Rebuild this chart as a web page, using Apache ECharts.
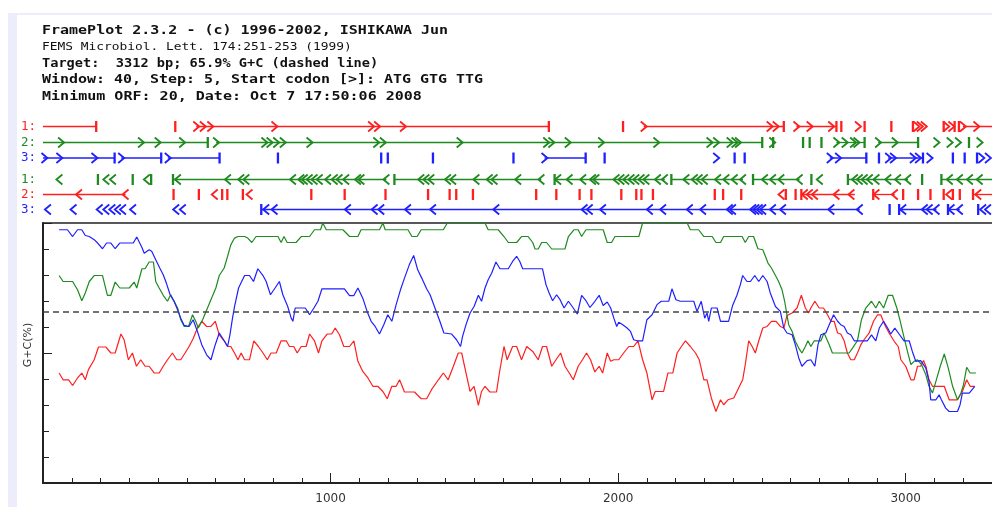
<!DOCTYPE html>
<html>
<head>
<meta charset="utf-8">
<script src="https://cdn.jsdelivr.net/npm/echarts@6/dist/echarts.min.js"></script>
<style>
  html, body { margin: 0; padding: 0; background: #ffffff; }
  #chart { width: 992px; height: 507px; }
</style>
</head>
<body>
<div id="chart"></div>
<script>
// ---- sequence summary ----
const seqLength = 3312;
const targetGC = 65.9;
const xLabelValues = [1000, 2000, 3000];

const headerLines = [
  'FramePlot 2.3.2 - (c) 1996-2002, ISHIKAWA Jun',
  'FEMS Microbiol. Lett. 174:251-253 (1999)',
  'Target:  3312 bp; 65.9% G+C (dashed line)',
  'Window: 40, Step: 5, Start codon [>]: ATG GTG TTG',
  'Minimum ORF: 20, Date: Oct 7 17:50:06 2008'
];

// ---- G+C (%) along the sequence, one trace per codon position ----
const frame1GC = [
  [56,42.3],[70,39.7],[89,39.7],[103,37.5],[120,40.4],[135,42.3],[147,39.7],[158,43.6],[178,47.4],[193,52.3],
  [219,52.3],[236,50],[251,50],[271,57.3],[282,55.1],[297,47.4],[311,50],[325,44.9],[340,47.4],[355,44.9],
  [369,44.9],[387,42.3],[404,42.3],[418,44.9],[433,47.4],[450,50],[465,47.4],[479,47.4],[494,50],[508,52.5],
  [522,55.5],[537,59.6],[552,62.2],[569,60.2],[584,60.2],[599,62.2],[613,57],[630,54.7],[642,52.5],[653,52.5],
  [666,50],[678,47.4],[689,50],[701,47.4],[718,47.4],[733,54.7],[749,52.5],[765,50],[780,47.4],[793,50],
  [811,50],[828,54.7],[846,54.7],[857,52.5],[872,52.5],[884,50],[898,52.5],[915,52.5],[927,57.3],[944,54.7],
  [958,50],[970,54.7],[988,57.3],[1004,57.3],[1016,59.6],[1031,57],[1046,52.5],[1066,52.5],[1081,54.7],[1095,46.8],
  [1112,42.9],[1130,40.4],[1147,37.2],[1164,37.2],[1182,35.2],[1197,32.4],[1213,37.2],[1228,37.2],[1240,39.7],[1257,35],
  [1292,35],[1315,32.4],[1334,32.4],[1351,35.9],[1375,39.7],[1392,42.3],[1409,39.7],[1427,44.9],[1444,50],[1456,50],
  [1471,42.3],[1485,35.2],[1499,37.2],[1514,29.9],[1525,35.2],[1537,37.2],[1554,35],[1577,35],[1587,42.3],[1603,52.5],
  [1614,47.4],[1633,52.5],[1647,52.5],[1664,47.4],[1682,52.5],[1703,50.6],[1722,47.4],[1737,52.5],[1751,52.5],[1769,44.9],
  [1784,47.4],[1800,50],[1815,44.9],[1830,42.3],[1844,39.7],[1861,44.9],[1876,47.4],[1890,50],[1904,47.4],[1919,42.7],
  [1934,44.9],[1946,42.3],[1962,50],[1974,46.8],[1985,47.4],[2002,47.4],[2019,50],[2037,52.5],[2054,52.5],[2069,54.7],
  [2085,47.4],[2100,42.3],[2118,32],[2129,35.2],[2158,35.2],[2173,42.3],[2190,42.3],[2205,50],[2220,52.5],[2234,54.7],
  [2251,52.5],[2269,50],[2282,47.4],[2298,39.7],[2309,39.7],[2324,32.7],[2340,27.5],[2356,32],[2367,30.1],[2382,32],
  [2402,32.7],[2419,36.5],[2433,39.7],[2442,45.5],[2454,54.7],[2466,52.5],[2477,50],[2489,54.7],[2503,59.6],[2518,60.2],
  [2533,62.2],[2549,62.2],[2564,60.2],[2576,59.6],[2587,64.4],[2605,65.4],[2622,67.3],[2637,72.2],[2651,67.3],[2662,65.4],
  [2670,67.3],[2684,69.9],[2699,67.3],[2714,67.3],[2728,64.7],[2740,62.2],[2751,62.2],[2763,57.7],[2774,57.3],[2786,54.7],
  [2797,50],[2809,47.4],[2821,47.4],[2832,50],[2844,53.2],[2855,55.1],[2873,57.7],[2888,62.2],[2902,64.7],[2913,64.7],
  [2927,60.9],[2942,57.7],[2960,54.5],[2974,52.5],[2983,47.4],[3000,44.9],[3018,39.7],[3029,39.7],[3041,44.9],[3052,44.9],
  [3062,47.1],[3070,44.9],[3081,39.7],[3093,37.2],[3134,37.2],[3151,32],[3180,32],[3197,35.2],[3212,39.7],[3224,37.2],
  [3240,37.2]
];

const frame2GC = [
  [56,79.8],[70,77.5],[103,77.5],[120,74.3],[135,70.1],[147,73.1],[161,77.5],[178,79.8],[207,79.8],[224,72.2],
  [236,72.2],[251,77.3],[267,75],[300,75],[317,77.3],[326,75],[344,82.4],[355,82.4],[369,85],[384,85],
  [392,77.5],[404,75],[418,72.2],[433,69.9],[444,72.4],[456,69.9],[468,67.3],[479,62.8],[491,60.2],[506,60.2],
  [520,64.7],[531,62.2],[540,59.6],[555,62.8],[572,67.3],[589,71.8],[601,75],[613,79.8],[630,82.7],[642,87.2],
  [653,91.6],[666,94.2],[678,94.8],[701,94.8],[712,94.2],[726,92.5],[741,94.8],[817,94.8],[828,92.5],[838,94.8],
  [849,92.5],[880,92.5],[898,94.8],[927,94.8],[944,97.4],[965,97.4],[973,100],[985,97.4],[1043,97.4],[1066,94.8],
  [1095,94.8],[1106,97.4],[1170,97.4],[1182,100],[1190,97.4],[1269,97.4],[1283,94.8],[1301,94.8],[1315,97.4],[1392,97.4],
  [1406,100],[1537,100],[1548,97.4],[1583,97.4],[1603,94.8],[1618,92.5],[1647,92.5],[1664,94.8],[1687,94.8],[1703,92.5],
  [1711,90],[1722,90],[1734,92.5],[1751,92.5],[1769,90],[1815,90],[1827,94.8],[1846,97.4],[1861,97.4],[1873,94.8],
  [1888,97.4],[1948,97.4],[1962,92.5],[1977,92.5],[1989,94.8],[2072,94.8],[2085,100],[2240,100],[2251,97.4],[2280,97.4],
  [2298,94.8],[2327,94.8],[2340,92.5],[2356,92.5],[2367,94.8],[2431,94.8],[2442,92.5],[2454,94.8],[2471,94.8],[2486,90.1],
  [2503,89.7],[2512,87.2],[2521,84.6],[2533,82.7],[2547,79.8],[2558,77.5],[2570,74.3],[2579,69.9],[2587,64.7],[2593,60.9],
  [2605,58.3],[2616,54.5],[2628,51.9],[2639,50],[2651,52.5],[2660,54.7],[2670,52.5],[2682,54.7],[2705,54.7],[2716,57.7],
  [2734,53.2],[2745,50],[2803,50],[2815,51.9],[2832,54.7],[2846,62.8],[2861,67.3],[2881,69.9],[2896,67.3],[2908,69.9],
  [2923,67.3],[2939,72.2],[2954,72.2],[2969,67.3],[2981,62.2],[2992,57],[3006,50.6],[3018,45.5],[3029,46.8],[3041,47.4],
  [3055,45.5],[3070,41.6],[3081,37.2],[3093,34.6],[3105,39.1],[3120,44.9],[3134,49.6],[3148,44.2],[3163,37.2],[3180,32],
  [3192,34.6],[3201,37.8],[3212,44.5],[3224,42.3],[3244,42.3]
];

const frame3GC = [
  [56,97.4],[85,97.4],[103,94.8],[120,97.4],[135,97.4],[147,95.2],[161,94.8],[178,93.6],[190,92.3],[207,90.1],
  [221,92.3],[236,92.3],[251,90.1],[267,92.3],[314,92.3],[326,94.6],[344,90.6],[352,88.4],[369,89.7],[378,89.1],
  [392,85.9],[406,82.7],[418,80.1],[429,76.9],[442,72.4],[456,69.8],[468,66.6],[479,63.4],[491,60.6],[508,60.2],
  [522,62.8],[537,58.3],[552,53.2],[569,49.3],[584,47.4],[599,53.2],[613,57.7],[630,54.7],[642,52.5],[650,57],
  [659,63.4],[666,67.8],[680,75],[701,79.8],[718,79.8],[732,77.5],[747,82.4],[765,79.8],[776,77.5],[791,72.4],
  [807,75],[822,77.5],[834,72.4],[851,67.9],[863,63.4],[869,62.2],[877,67.3],[912,67.3],[927,64.7],[942,67.3],
  [956,69.9],[970,74.7],[1048,74.7],[1066,72.1],[1081,72.1],[1095,75],[1112,71.1],[1127,66],[1141,62.2],[1155,60.2],
  [1170,57.3],[1185,60.9],[1199,64.7],[1213,62.2],[1228,68.6],[1243,74.3],[1257,78.8],[1274,84],[1289,87.5],[1303,82],
  [1317,78.8],[1334,74.7],[1346,72.4],[1363,67.3],[1380,62.2],[1394,57.7],[1421,57.3],[1438,55.1],[1452,52.5],[1459,56.4],
  [1471,60.9],[1485,65.4],[1499,67.9],[1514,72.2],[1525,69.9],[1537,75],[1548,78.2],[1560,80.7],[1575,85],[1589,82.4],
  [1618,82.4],[1633,85.2],[1647,87.2],[1658,85.2],[1668,82.4],[1737,82.4],[1749,76.3],[1760,73.1],[1772,70.1],[1786,72.4],
  [1798,70.5],[1812,67.3],[1827,69.9],[1844,67.3],[1858,65],[1873,72.2],[1888,70.1],[1902,67.5],[1919,69.9],[1934,72.2],
  [1948,68.3],[1962,69.6],[1974,67.3],[1985,63.4],[1995,60.2],[2002,61.8],[2016,60.9],[2031,59.6],[2043,58.3],[2054,55.1],
  [2066,54.7],[2085,54.7],[2100,62.8],[2118,64.7],[2135,68.6],[2150,69.9],[2176,69.9],[2187,74.7],[2201,70.5],[2216,69.9],
  [2263,69.9],[2274,66],[2289,69.9],[2301,63.4],[2309,65.4],[2315,62.2],[2324,67.3],[2344,67.3],[2356,62.2],[2384,62.2],
  [2398,68.3],[2413,72.2],[2425,76.3],[2433,79.8],[2448,77.5],[2460,77.5],[2475,79.8],[2489,77.5],[2503,79.8],[2518,77.5],
  [2529,73.1],[2547,67.9],[2564,66],[2570,66.6],[2576,59.6],[2587,57.7],[2605,57],[2616,53.2],[2628,48.1],[2639,44.9],
  [2657,47.1],[2670,47.4],[2684,44.9],[2695,53.2],[2705,57],[2722,57.7],[2734,60.9],[2749,64.7],[2763,62.2],[2774,60.9],
  [2786,60.2],[2797,57.7],[2809,57],[2821,54.7],[2867,54.7],[2881,57],[2896,54.7],[2908,59.6],[2923,62.2],[2937,59.6],
  [2948,57.3],[2962,59.6],[2977,57.3],[2994,54.7],[3012,54.7],[3023,50.6],[3035,46.8],[3052,47.1],[3070,44.2],[3081,39.1],
  [3087,32],[3105,32],[3116,33.9],[3124,32],[3139,28.8],[3151,27.5],[3180,27.5],[3189,30.1],[3197,34.6],[3221,34.6],
  [3240,37.2]
];

// ---- ORF map: open reading frames, start codons and stop codons (bp) ----
// forward strand
const f1Orfs = [[0,185],[533,1759],[2089,2576],[2620,2759],[3199,3312]];
const f1Starts = [533,556,582,805,1141,1162,1252,2089,2527,2548,2620,2666,2741,2834,3037,3049,3063,3141,3159,3199,3246];
const f1Stops = [185,460,1759,2017,2576,2759,2776,2857,2950,3025,3132,3170,3185];

const f2Orfs = [[0,573],[602,2501],[2759,2857],[2904,3043]];
const f2Starts = [63,341,399,484,602,770,788,811,834,927,1159,1182,1449,1750,1768,1825,1941,2133,2318,2341,2388,2405,2417,2536,2759,2788,2817,2829,2904,2962,3107,3153,3182,3257];
const f2Stops = [573,2501,2539,2643,2666,2707,2857,3043,3220];

const f3Orfs = [[0,249],[272,411],[434,614],[1744,1887],[2736,2863],[2939,3060]];
const f3Starts = [5,57,179,272,434,1744,2341,2736,2765,2939,2956,3025,3043,3083,3263,3286];
const f3Stops = [249,411,614,817,1176,1199,1356,1636,1887,1953,2405,2440,2863,2907,3060,3164,3205,3248];

// reverse strand
const r1Orfs = [[452,1194],[1222,1733],[1779,2162],[2185,2434],[2469,2631],[2799,3008],[3124,3312]];
const r1Starts = [57,220,243,361,469,643,689,707,869,898,910,927,944,962,991,1014,1031,1054,1095,1107,1194,1315,1333,1350,1408,1426,1507,1553,1570,1652,1733,1791,1831,1878,1912,1924,1994,2011,2028,2046,2063,2081,2098,2138,2162,2237,2266,2283,2301,2347,2376,2405,2434,2510,2538,2567,2631,2701,2823,2840,2857,2875,2898,2939,2973,3008,3153,3188,3223,3257];
const r1Stops = [191,312,376,452,1222,1779,2185,2469,2672,2799,3057,3124];

const r2Orfs = [[0,287],[2637,2823],[2887,2962],[3234,3312]];
const r2Starts = [125,287,597,718,2568,2649,2666,2684,2759,2811,2898,2962,3151,3252];
const r2Stops = [454,542,623,641,695,933,1049,1191,1339,1414,1437,1495,1715,1785,1866,1907,2011,2063,2081,2121,2336,2365,2428,2583,2617,2637,2887,2991,3043,3086,3132,3164,3188,3234];

const r3Orfs = [[759,2840],[2977,3107],[3147,3188]];
const r3Starts = [17,106,197,220,241,260,278,313,463,486,776,805,1060,1153,1176,1269,1356,1576,1883,1901,1947,2110,2156,2249,2295,2388,2399,2469,2480,2492,2504,2538,2573,2741,2840,2991,3066,3083,3107,3159,3188,3269,3286];
const r3Stops = [759,2944,2977,3147,3252];

// ---- styling ----
const RED = '#ff1f1f';
const GREEN = '#1f8a1f';
const BLUE = '#1f1fff';
const AXIS = '#222222';

// The page shows only the first ~3300 bp of the axis; the sequence end lies just past the right edge.
const PLOT_LEFT = 43;
const VISIBLE_END = 3300;

// track rows: label, colour, strand direction and vertical level (px below track top)
const trackRows = [
  { label: '1:', color: RED,   dir: 1,  level: 0,    orfs: f1Orfs, starts: f1Starts, stops: f1Stops },
  { label: '2:', color: GREEN, dir: 1,  level: 16,   orfs: f2Orfs, starts: f2Starts, stops: f2Stops },
  { label: '3:', color: BLUE,  dir: 1,  level: 31.5, orfs: f3Orfs, starts: f3Starts, stops: f3Stops },
  { label: '1:', color: GREEN, dir: -1, level: 53,   orfs: r1Orfs, starts: r1Starts, stops: r1Stops },
  { label: '2:', color: RED,   dir: -1, level: 68,   orfs: r2Orfs, starts: r2Starts, stops: r2Stops },
  { label: '3:', color: BLUE,  dir: -1, level: 83,   orfs: r3Orfs, starts: r3Starts, stops: r3Stops }
];
const TRACK_TOP = 126.5;
const TRACK_SPAN = 83;

// flatten the ORF map into [kind, row, from, to] items: 0 = ORF, 1 = start, 2 = stop
const trackItems = [];
trackRows.forEach((r, i) => {
  r.orfs.forEach(o => trackItems.push([0, i, o[0], Math.min(o[1], seqLength)]));
  r.stops.forEach(p => trackItems.push([2, i, p, p]));
  r.starts.forEach(p => trackItems.push([1, i, p, p]));
});

function renderTrack(params, api) {
  const kind = api.value(0);
  const row = trackRows[api.value(1)];
  const p = api.coord([api.value(2), row.level]);
  if (kind === 0) {
    const q = api.coord([api.value(3), row.level]);
    return { type: 'line', shape: { x1: p[0], y1: p[1], x2: q[0], y2: q[1] },
             style: { stroke: row.color, lineWidth: 1.3 } };
  }
  if (kind === 1) {
    const d = row.dir;
    return { type: 'polyline',
             shape: { points: [[p[0] - 3 * d, p[1] - 5], [p[0] + 3 * d, p[1]], [p[0] - 3 * d, p[1] + 5]] },
             style: { stroke: row.color, fill: null, lineWidth: 1.8 } };
  }
  return { type: 'line', shape: { x1: p[0], y1: p[1] - 5.5, x2: p[0], y2: p[1] + 5.5 },
           style: { stroke: row.color, lineWidth: 2.3 } };
}

// header text, each line stretched to the width of the original lettering
const headerStyle = [
  { y: 30.5, font: 'bold 12px "DejaVu Sans Mono"',  scaleX: 1.249 },
  { y: 47,   font: '10.5px "DejaVu Sans Mono"',     scaleX: 1.225 },
  { y: 63.5, font: 'bold 12px "DejaVu Sans Mono"',  scaleX: 1.135 },
  { y: 80,   font: 'bold 12px "DejaVu Sans Mono"',  scaleX: 1.246 },
  { y: 97,   font: 'bold 12px "DejaVu Sans Mono"',  scaleX: 1.252 }
];

const graphics = [
  { type: 'rect', shape: { x: 8, y: 13, width: 984, height: 2 }, style: { fill: '#ececfa' }, silent: true },
  { type: 'rect', shape: { x: 8, y: 13, width: 9, height: 494 }, style: { fill: '#ececfa' }, silent: true }
];
headerLines.forEach((t, i) => {
  const s = headerStyle[i];
  graphics.push({ type: 'text', x: 42, y: s.y, scaleX: s.scaleX, silent: true,
    style: { text: t, font: s.font, fill: '#111111', verticalAlign: 'middle', align: 'left' } });
});
trackRows.forEach(r => {
  graphics.push({ type: 'text', x: 21, y: TRACK_TOP + r.level, silent: true,
    style: { text: r.label, font: '12.5px "DejaVu Sans Mono"', fill: r.color, verticalAlign: 'middle', align: 'left' } });
});
graphics.push({ type: 'text', x: 28.5, y: 345, rotation: Math.PI / 2, silent: true,
  style: { text: 'G+C(%)', font: '11px "DejaVu Sans"', fill: '#333333', align: 'center', verticalAlign: 'middle' } });

const chart = echarts.init(document.getElementById('chart'), null, { renderer: 'canvas' });

chart.setOption({
  animation: false,
  backgroundColor: '#ffffff',
  graphic: graphics,
  grid: [
    { left: PLOT_LEFT, right: 0, top: 223, height: 260, show: false },
    { left: PLOT_LEFT, right: 0, top: TRACK_TOP, height: TRACK_SPAN, show: false }
  ],
  xAxis: [
    { // minor ticks every 100 bp
      type: 'value', gridIndex: 0, min: 0, max: VISIBLE_END, interval: 100, position: 'bottom',
      axisLine: { show: true, lineStyle: { color: AXIS, width: 2 } },
      axisTick: { show: true, inside: true, length: 5, lineStyle: { color: AXIS, width: 1 } },
      axisLabel: { show: false }, splitLine: { show: false }
    },
    { // major ticks and labels every 1000 bp
      type: 'value', gridIndex: 0, min: 0, max: VISIBLE_END, interval: 1000, position: 'bottom',
      axisLine: { show: false },
      axisTick: { show: true, inside: true, length: 10, lineStyle: { color: AXIS, width: 1 } },
      axisLabel: { show: true, margin: 10, color: '#333333', fontSize: 12, fontFamily: 'DejaVu Sans',
                   showMinLabel: false, showMaxLabel: false,
                   formatter: v => (xLabelValues.indexOf(v) >= 0 ? String(v) : '') },
      splitLine: { show: false }
    },
    { // top frame line
      type: 'value', gridIndex: 0, min: 0, max: VISIBLE_END, position: 'top',
      axisLine: { show: true, lineStyle: { color: AXIS, width: 1.5 } },
      axisTick: { show: false }, axisLabel: { show: false }, splitLine: { show: false }
    },
    { type: 'value', gridIndex: 1, min: 0, max: VISIBLE_END, show: false }
  ],
  yAxis: [
    { type: 'value', gridIndex: 0, min: 0, max: 100, interval: 10, position: 'left',
      axisLine: { show: true, lineStyle: { color: AXIS, width: 2 } },
      axisTick: { show: true, inside: true, length: 6, lineStyle: { color: AXIS, width: 1 } },
      axisLabel: { show: false }, splitLine: { show: false } },
    { type: 'value', gridIndex: 0, min: 0, max: 100, interval: 50, position: 'left',
      axisLine: { show: false },
      axisTick: { show: true, inside: true, length: 9, lineStyle: { color: AXIS, width: 1 } },
      axisLabel: { show: false }, splitLine: { show: false } },
    { type: 'value', gridIndex: 1, min: 0, max: TRACK_SPAN, inverse: true, show: false }
  ],
  series: [
    { type: 'line', name: 'frame 1', xAxisIndex: 0, yAxisIndex: 0, data: frame1GC,
      showSymbol: false, symbol: 'none', lineStyle: { color: RED, width: 1.2 }, z: 3 },
    { type: 'line', name: 'frame 2', xAxisIndex: 0, yAxisIndex: 0, data: frame2GC,
      showSymbol: false, symbol: 'none', lineStyle: { color: GREEN, width: 1.2 }, z: 3 },
    { type: 'line', name: 'frame 3', xAxisIndex: 0, yAxisIndex: 0, data: frame3GC,
      showSymbol: false, symbol: 'none', lineStyle: { color: BLUE, width: 1.2 }, z: 3,
      markLine: { silent: true, symbol: ['none', 'none'], label: { show: false },
        lineStyle: { color: '#444444', type: [6, 4], width: 1.5 },
        data: [{ yAxis: targetGC }] } },
    { type: 'custom', name: 'ORF map', xAxisIndex: 3, yAxisIndex: 2, clip: false,
      renderItem: renderTrack, data: trackItems, encode: { x: [2, 3], y: 1 }, z: 4 }
  ]
});
</script>
</body>
</html>
